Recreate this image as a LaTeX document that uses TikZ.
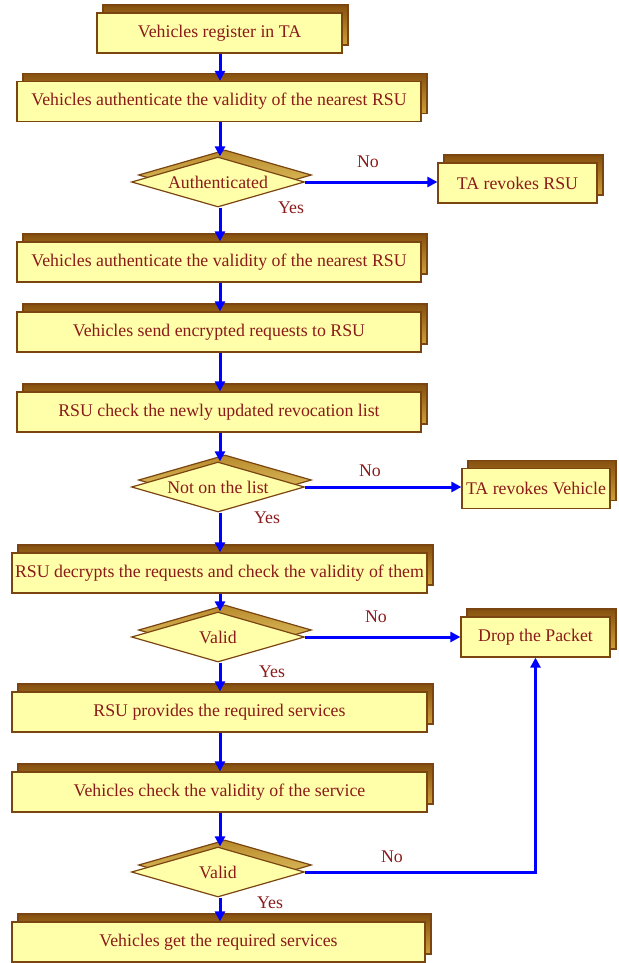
\documentclass[tikz,border=0pt]{standalone}
\usepackage{fontspec}
\setmainfont{Liberation Serif}
\usetikzlibrary{shapes.geometric,arrows.meta,shadows}
\definecolor{boxfill}{HTML}{FFFFAA}
\definecolor{boxdraw}{HTML}{7A4510}
\definecolor{txt}{HTML}{8B1A1A}
\definecolor{shadtop}{HTML}{85500F}
\definecolor{shadbot}{HTML}{D0A038}
\definecolor{dshtop}{HTML}{B88A2C}
\definecolor{dshbot}{HTML}{EAD070}
\definecolor{flow}{HTML}{0000FF}
\begin{document}
\begin{tikzpicture}[x=1pt,y=-1pt,
  box/.style={rectangle, draw=boxdraw, line width=1.2pt, fill=boxfill, text=txt,
    font=\fontsize{17.8}{20}\selectfont, minimum height=40pt, inner sep=0pt,
    copy shadow={shadow xshift=6pt, shadow yshift=8pt, draw=boxdraw, top color=shadtop, bottom color=shadbot}},
  dec/.style={diamond, draw=boxdraw, line width=1.2pt, fill=boxfill, text=txt,
    font=\fontsize{17.8}{20}\selectfont, minimum width=173pt, minimum height=50pt, inner sep=0pt, aspect=3.46,
    copy shadow={shadow xshift=7pt, shadow yshift=7pt, draw=boxdraw, top color=dshtop, bottom color=dshbot}},
  lbl/.style={text=txt, font=\fontsize{17.8}{20}\selectfont, inner sep=0pt},
  flowline/.style={draw=flow, line width=3pt, -{Triangle[length=10pt,width=10pt]}}
]
\useasboundingbox (0,0) rectangle (618,963);

\node[box, minimum width=245pt] (b1) at (219.5,33) {Vehicles register in TA};
\node[box, minimum width=404pt] (b2) at (219,101.5) {Vehicles authenticate the validity of the nearest RSU};
\node[dec] (d1) at (218,182) {Authenticated};
\node[box, minimum width=159pt] (r1) at (517.5,183) {TA revokes RSU};
\node[box, minimum width=404pt] (b3) at (219,262) {Vehicles authenticate the validity of the nearest RSU};
\node[box, minimum width=404pt] (b4) at (219,332) {Vehicles send encrypted requests to RSU};
\node[box, minimum width=404pt] (b5) at (219,412) {RSU check the newly updated revocation list};
\node[dec] (d2) at (218,487) {Not on the list};
\node[box, minimum width=148pt] (r2) at (536,488.5) {TA revokes Vehicle};
\node[box, minimum width=415pt] (b6) at (219.5,573) {RSU decrypts the requests and check the validity of them};
\node[dec] (d3) at (218,637) {Valid};
\node[box, minimum width=149pt] (r3) at (535.5,637) {Drop the Packet};
\node[box, minimum width=415pt] (b7) at (219.5,712) {RSU provides the required services};
\node[box, minimum width=415pt] (b8) at (219.5,792) {Vehicles check the validity of the service};
\node[dec] (d4) at (218,872) {Valid};
\node[box, minimum width=413pt] (b9) at (218.5,942) {Vehicles get the required services};

\node[lbl] (n1) at (368,162) {No};
\node[lbl] (y1) at (291,208) {Yes};
\node[lbl] (n2) at (370,471) {No};
\node[lbl] (y2) at (267,518) {Yes};
\node[lbl] (n3) at (376,617) {No};
\node[lbl] (y3) at (272,672) {Yes};
\node[lbl] (n4) at (392,857) {No};
\node[lbl] (y4) at (270,903) {Yes};

\draw[flowline] (b1.south -| 220,0) -- (b2.north -| 220,0);
\draw[flowline] (b2.south -| 220,0) -- (d1.north -| 220,0);
\draw[flowline] (d1.south -| 220,0) -- (b3.north -| 220,0);
\draw[flowline] (b3.south -| 220,0) -- (b4.north -| 220,0);
\draw[flowline] (b4.south -| 220,0) -- (b5.north -| 220,0);
\draw[flowline] (b5.south -| 220,0) -- (d2.north -| 220,0);
\draw[flowline] (d2.south -| 220,0) -- (b6.north -| 220,0);
\draw[flowline] (b6.south -| 220,0) -- (d3.north -| 220,0);
\draw[flowline] (d3.south -| 220,0) -- (b7.north -| 220,0);
\draw[flowline] (b7.south -| 220,0) -- (b8.north -| 220,0);
\draw[flowline] (b8.south -| 220,0) -- (d4.north -| 220,0);
\draw[flowline] (d4.south -| 220,0) -- (b9.north -| 220,0);
\draw[flowline] (d1.east) -- (r1.west |- d1.east);
\draw[flowline] (d2.east) -- (r2.west |- d2.east);
\draw[flowline] (d3.east) -- (r3.west |- d3.east);
\draw[flowline] (d4.east) -| (r3.south);
\end{tikzpicture}
\end{document}
